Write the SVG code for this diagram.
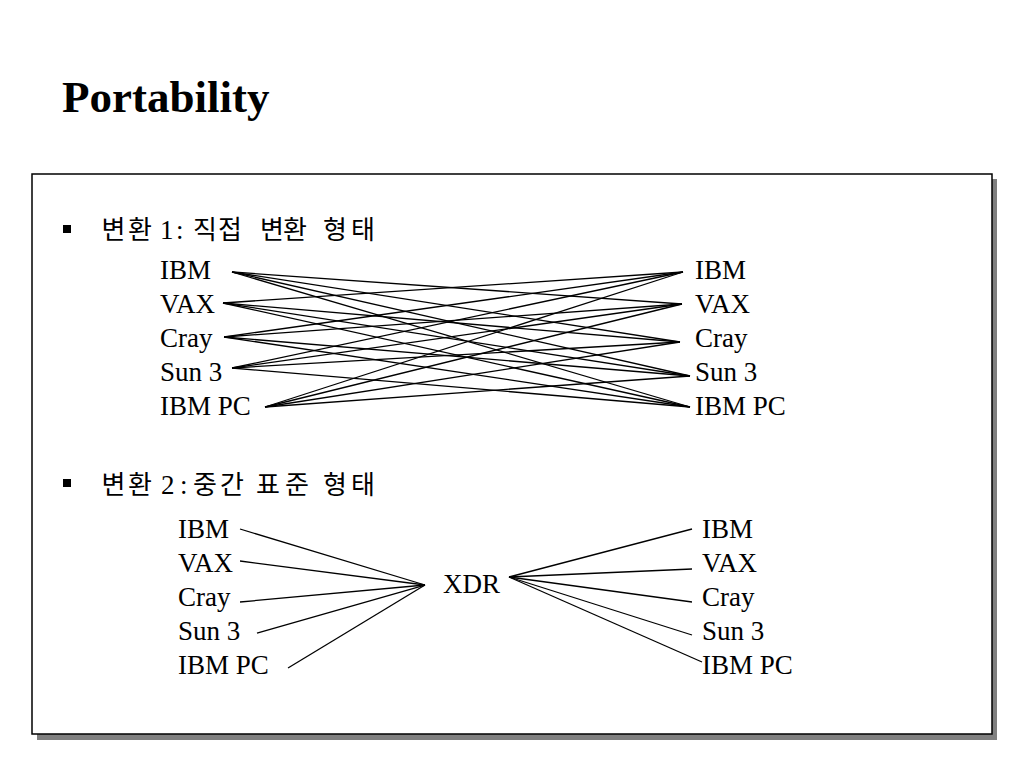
<svg xmlns="http://www.w3.org/2000/svg" width="1024" height="768" viewBox="0 0 1024 768">
<style>
.lbl{font-family:"Liberation Serif",Tinos,"Times New Roman","DejaVu Serif",serif;font-size:27px;fill:#000}
.ko{font-family:"Noto Sans CJK KR","Noto Sans",sans-serif;font-size:26px;fill:#000}
.num{font-family:"Liberation Serif",Tinos,"Times New Roman",serif;font-size:27px;fill:#000}
.title{font-family:"Liberation Serif",Tinos,"Times New Roman",serif;font-size:45px;font-weight:bold;fill:#000}
.ln{stroke:#000;stroke-width:1.3;fill:none}
</style>
<rect x="0" y="0" width="1024" height="768" fill="#fff"/>
<text class="title" x="62" y="112">Portability</text>
<g id="frame">
<rect x="37" y="179" width="960" height="561" fill="#808080"/>
<rect x="32" y="174" width="960" height="560" fill="#fff" stroke="#000" stroke-width="1.5"/>
</g>
<g id="bullet1">
<rect x="63" y="225" width="8" height="8" fill="#000"/>
<text y="239"><tspan class="ko" x="101.5">변</tspan><tspan class="ko" x="128">환</tspan><tspan class="num" x="160">1</tspan><tspan class="num" x="176">:</tspan><tspan class="ko" x="193">직</tspan><tspan class="ko" x="218">접</tspan><tspan class="ko" x="260">변</tspan><tspan class="ko" x="283">환</tspan><tspan class="ko" x="323">형</tspan><tspan class="ko" x="351">태</tspan></text>
</g>
<g id="bullet2">
<rect x="63" y="479" width="8" height="8" fill="#000"/>
<text y="494"><tspan class="ko" x="101.5">변</tspan><tspan class="ko" x="128">환</tspan><tspan class="num" x="161">2</tspan><tspan class="num" x="180">:</tspan><tspan class="ko" x="193">중</tspan><tspan class="ko" x="220">간</tspan><tspan class="ko" x="256">표</tspan><tspan class="ko" x="285">준</tspan><tspan class="ko" x="323">형</tspan><tspan class="ko" x="351">태</tspan></text>
</g>
<g id="top-left">
<text class="lbl" x="160" y="279">IBM</text>
<text class="lbl" x="160" y="313">VAX</text>
<text class="lbl" x="160" y="347">Cray</text>
<text class="lbl" x="160" y="381">Sun 3</text>
<text class="lbl" x="160" y="415">IBM PC</text>
</g>
<g id="top-right">
<text class="lbl" x="695" y="279">IBM</text>
<text class="lbl" x="695" y="313">VAX</text>
<text class="lbl" x="695" y="347">Cray</text>
<text class="lbl" x="695" y="381">Sun 3</text>
<text class="lbl" x="695" y="415">IBM PC</text>
</g>
<g id="bottom-left">
<text class="lbl" x="178" y="538">IBM</text>
<text class="lbl" x="178" y="572">VAX</text>
<text class="lbl" x="178" y="606">Cray</text>
<text class="lbl" x="178" y="640">Sun 3</text>
<text class="lbl" x="178" y="674">IBM PC</text>
</g>
<g id="xdr">
<text class="lbl" x="443" y="593">XDR</text>
</g>
<g id="bottom-right">
<text class="lbl" x="702" y="538">IBM</text>
<text class="lbl" x="702" y="572">VAX</text>
<text class="lbl" x="702" y="606">Cray</text>
<text class="lbl" x="702" y="640">Sun 3</text>
<text class="lbl" x="702" y="674">IBM PC</text>
</g>
<g id="connectors" class="ln">
<line x1="232" y1="272" x2="682" y2="304"/>
<line x1="232" y1="272" x2="680" y2="342"/>
<line x1="232" y1="272" x2="690" y2="376"/>
<line x1="232" y1="272" x2="690" y2="407"/>
<line x1="223" y1="303" x2="683" y2="272"/>
<line x1="223" y1="303" x2="680" y2="342"/>
<line x1="223" y1="303" x2="690" y2="376"/>
<line x1="223" y1="303" x2="690" y2="407"/>
<line x1="224" y1="337" x2="683" y2="272"/>
<line x1="224" y1="337" x2="682" y2="304"/>
<line x1="224" y1="337" x2="690" y2="376"/>
<line x1="224" y1="337" x2="690" y2="407"/>
<line x1="232" y1="368" x2="683" y2="272"/>
<line x1="232" y1="368" x2="682" y2="304"/>
<line x1="232" y1="368" x2="680" y2="342"/>
<line x1="232" y1="368" x2="690" y2="407"/>
<line x1="265" y1="407" x2="683" y2="272"/>
<line x1="265" y1="407" x2="682" y2="304"/>
<line x1="265" y1="407" x2="680" y2="342"/>
<line x1="265" y1="407" x2="690" y2="376"/>
<line x1="240" y1="529" x2="425" y2="585"/>
<line x1="240" y1="561" x2="425" y2="585"/>
<line x1="240" y1="602" x2="425" y2="585"/>
<line x1="257" y1="633" x2="425" y2="585"/>
<line x1="288" y1="668" x2="425" y2="585"/>
<line x1="509" y1="577" x2="692" y2="529"/>
<line x1="509" y1="577" x2="692" y2="569"/>
<line x1="509" y1="577" x2="692" y2="602"/>
<line x1="509" y1="577" x2="692" y2="635"/>
<line x1="509" y1="577" x2="702" y2="662"/>
</g>
</svg>
